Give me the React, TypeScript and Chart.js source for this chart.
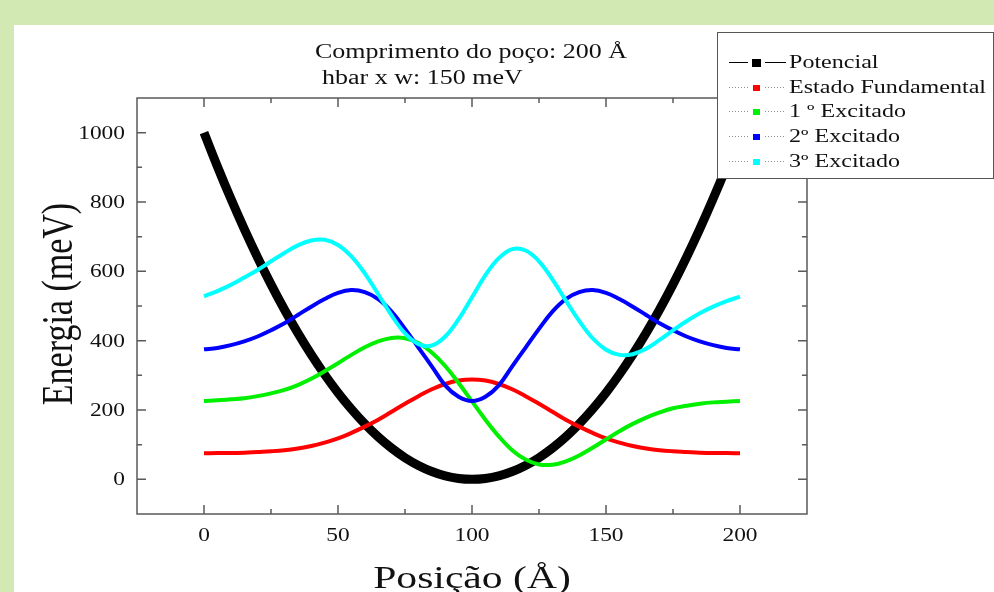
import React, { useEffect, useRef } from "react";
import { Chart, registerables } from "chart.js";

Chart.register(...registerables);

// ---- data ----
const positions = [0, 5, 10, 15, 20, 25, 30, 35, 40, 45, 50, 55, 60, 65, 70, 75, 80, 85, 90, 95, 100, 105, 110, 115, 120, 125, 130, 135, 140, 145, 150, 155, 160, 165, 170, 175, 180, 185, 190, 195, 200];
const potencial = [1000, 902.5, 810, 722.5, 640, 562.5, 490, 422.5, 360, 302.5, 250, 202.5, 160, 122.5, 90, 62.5, 40, 22.5, 10, 2.5, 0, 2.5, 10, 22.5, 40, 62.5, 90, 122.5, 160, 202.5, 250, 302.5, 360, 422.5, 490, 562.5, 640, 722.5, 810, 902.5, 1000];
const estadoFundamental = [75, 76, 76, 77, 79, 81, 84, 89, 96, 106, 118, 134, 152, 172, 195, 218, 240, 260, 275, 285, 288, 285, 275, 260, 240, 218, 195, 172, 152, 134, 118, 106, 96, 89, 84, 81, 79, 77, 76, 76, 75];
const excitado1 = [226, 228, 231, 234, 240, 248, 258, 272, 290, 312, 335, 359, 381, 398, 408, 407, 393, 366, 327, 278, 225, 172, 124, 84, 57, 43, 42, 52, 69, 91, 115, 139, 160, 178, 193, 205, 212, 218, 222, 224, 226];
const excitado2 = [375, 379, 387, 398, 412, 430, 450, 474, 498, 520, 538, 546, 540, 520, 484, 434, 380, 326, 271, 238, 226, 238, 271, 326, 380, 434, 484, 520, 540, 546, 538, 520, 498, 474, 450, 430, 412, 398, 387, 379, 375];
const excitado3 = [528, 543, 561, 582, 604, 629, 653, 675, 689, 691, 676, 643, 594, 534, 473, 421, 390, 386, 412, 462, 525, 589, 638, 664, 660, 629, 577, 516, 457, 407, 374, 359, 361, 377, 402, 430, 456, 479, 498, 514, 527];

const xTicks = [0, 50, 100, 150, 200];
const xMinorTicks = [25, 75, 125, 175];
const yTicks = [0, 200, 400, 600, 800, 1000];
const yMinorTicks = [100, 300, 500, 700, 900];
const titleLine1 = "Comprimento do poço: 200 Å";
const titleLine2 = "hbar x w: 150 meV";
const xTitle = "Posição (Å)";
const yTitle = "Energia (meV)";
const seriesLabels = ["Potencial", "Estado Fundamental", "1 º Excitado", "2º Excitado", "3º Excitado"];
const seriesColors = ["#000000", "#ff0000", "#00f000", "#0000ff", "#00ffff"];

const SERIF = '"Liberation Serif", "Times New Roman", serif';
const STRETCH = 1.3;

function drawText(
  ctx: CanvasRenderingContext2D,
  text: string,
  x: number,
  y: number,
  size: number,
  align: "left" | "center" | "right"
) {
  ctx.save();
  ctx.font = `${size}px ${SERIF}`;
  ctx.textAlign = "left";
  ctx.textBaseline = "alphabetic";
  ctx.fillStyle = "#111";
  const w = ctx.measureText(text).width * STRETCH;
  const x0 = align === "left" ? x : align === "center" ? x - w / 2 : x - w;
  ctx.translate(x0, y);
  ctx.scale(STRETCH, 1);
  ctx.fillText(text, 0, 0);
  ctx.restore();
}

const decorPlugin = {
  id: "decor",
  afterDraw(chart: any) {
    const ctx: CanvasRenderingContext2D = chart.ctx;
    const { left, right, top, bottom } = chart.chartArea;
    const xs = chart.scales.x;
    const ys = chart.scales.y;

    // frame
    ctx.save();
    ctx.strokeStyle = "#5a5a5a";
    ctx.lineWidth = 1.5;
    ctx.strokeRect(left, top, right - left, bottom - top);

    const MAJ = 9;
    const MIN = 5;
    ctx.beginPath();
    const xt = (v: number, len: number) => {
      const px = xs.getPixelForValue(v);
      ctx.moveTo(px, bottom);
      ctx.lineTo(px, bottom - len);
      ctx.moveTo(px, top);
      ctx.lineTo(px, top + len);
    };
    const yt = (v: number, len: number) => {
      const py = ys.getPixelForValue(v);
      ctx.moveTo(left, py);
      ctx.lineTo(left + len, py);
      ctx.moveTo(right, py);
      ctx.lineTo(right - len, py);
    };
    xTicks.forEach((v) => xt(v, MAJ));
    xMinorTicks.forEach((v) => xt(v, MIN));
    yTicks.forEach((v) => yt(v, MAJ));
    yMinorTicks.forEach((v) => yt(v, MIN));
    ctx.stroke();
    ctx.restore();

    // tick labels
    xTicks.forEach((v) => {
      drawText(ctx, String(v), xs.getPixelForValue(v), bottom + 27, 18, "center");
    });
    yTicks.forEach((v) => {
      drawText(ctx, String(v), left - 12, ys.getPixelForValue(v) + 6, 18, "right");
    });

    // axis titles
    drawText(ctx, xTitle, (left + right) / 2, 563, 32, "center");
    ctx.save();
    ctx.font = `34px ${SERIF}`;
    ctx.fillStyle = "#111";
    ctx.textAlign = "center";
    ctx.textBaseline = "alphabetic";
    ctx.translate(58, (top + bottom) / 2 - 2);
    ctx.scale(STRETCH, 1);
    ctx.rotate(-Math.PI / 2);
    ctx.fillText(yTitle, 0, 0);
    ctx.restore();

    // title lines
    drawText(ctx, titleLine1, 301, 33, 20, "left");
    drawText(ctx, titleLine2, 308, 59, 20, "left");

    // legend box
    const bx = 703, by = 7, bw = 276, bh = 146;
    ctx.save();
    ctx.fillStyle = "#ffffff";
    ctx.fillRect(bx, by, bw, bh);
    ctx.strokeStyle = "#555";
    ctx.lineWidth = 1;
    ctx.strokeRect(bx + 0.5, by + 0.5, bw, bh);
    ctx.restore();

    seriesLabels.forEach((label, i) => {
      const base = 43 + i * 24.7;
      const ly = Math.round(base - 6) + 0.5;
      ctx.save();
      if (i === 0) {
        ctx.strokeStyle = "#000";
        ctx.lineWidth = 1;
        ctx.beginPath();
        ctx.moveTo(715, ly);
        ctx.lineTo(734, ly);
        ctx.moveTo(751, ly);
        ctx.lineTo(772, ly);
        ctx.stroke();
        ctx.fillStyle = "#000";
        ctx.fillRect(738, ly - 3.5, 9, 8);
      } else {
        ctx.strokeStyle = "rgba(120,120,120,0.8)";
        ctx.lineWidth = 1;
        ctx.setLineDash([1, 2]);
        ctx.beginPath();
        ctx.moveTo(715, ly);
        ctx.lineTo(734, ly);
        ctx.moveTo(751, ly);
        ctx.lineTo(772, ly);
        ctx.stroke();
        ctx.fillStyle = seriesColors[i];
        ctx.fillRect(739, ly - 2.5, 7, 6);
      }
      ctx.restore();
      drawText(ctx, label, 775, base, 18.5, "left");
    });
  },
};

export default function App() {
  const ref = useRef<HTMLCanvasElement | null>(null);

  useEffect(() => {
    const canvas = ref.current;
    if (!canvas) return;
    const series = [potencial, estadoFundamental, excitado1, excitado2, excitado3];
    const datasets = series.map((vals, i) => ({
      label: seriesLabels[i],
      data: positions.map((x, k) => ({ x, y: vals[k] })),
      borderColor: seriesColors[i],
      backgroundColor: seriesColors[i],
      borderWidth: i === 0 ? 9 : 4,
      pointRadius: 0,
      fill: false,
      tension: 0.4,
      borderJoinStyle: "round" as const,
      order: 5 - i,
    }));
    const chart = new Chart(canvas, {
      type: "line",
      data: { datasets },
      options: {
        animation: false,
        responsive: false,
        maintainAspectRatio: false,
        devicePixelRatio: 1,
        layout: { padding: { left: 123, top: 73, right: 187, bottom: 78 } },
        scales: {
          x: { type: "linear", min: -25, max: 225, display: false },
          y: { type: "linear", min: -100, max: 1100, display: false },
        },
        plugins: {
          legend: { display: false },
          tooltip: { enabled: false },
          title: { display: false },
        },
      },
      plugins: [decorPlugin],
    });
    return () => chart.destroy();
  }, []);

  return (
    <div
      style={{
        position: "fixed",
        left: 0,
        top: 0,
        width: 994,
        height: 592,
        background: "#d2e9b4",
        overflow: "hidden",
      }}
    >
      <div
        style={{
          position: "absolute",
          left: 14,
          top: 25,
          width: 980,
          height: 567,
          background: "#ffffff",
        }}
      >
        <canvas ref={ref} width={980} height={567} style={{ display: "block", width: 980, height: 567 }} />
      </div>
    </div>
  );
}
